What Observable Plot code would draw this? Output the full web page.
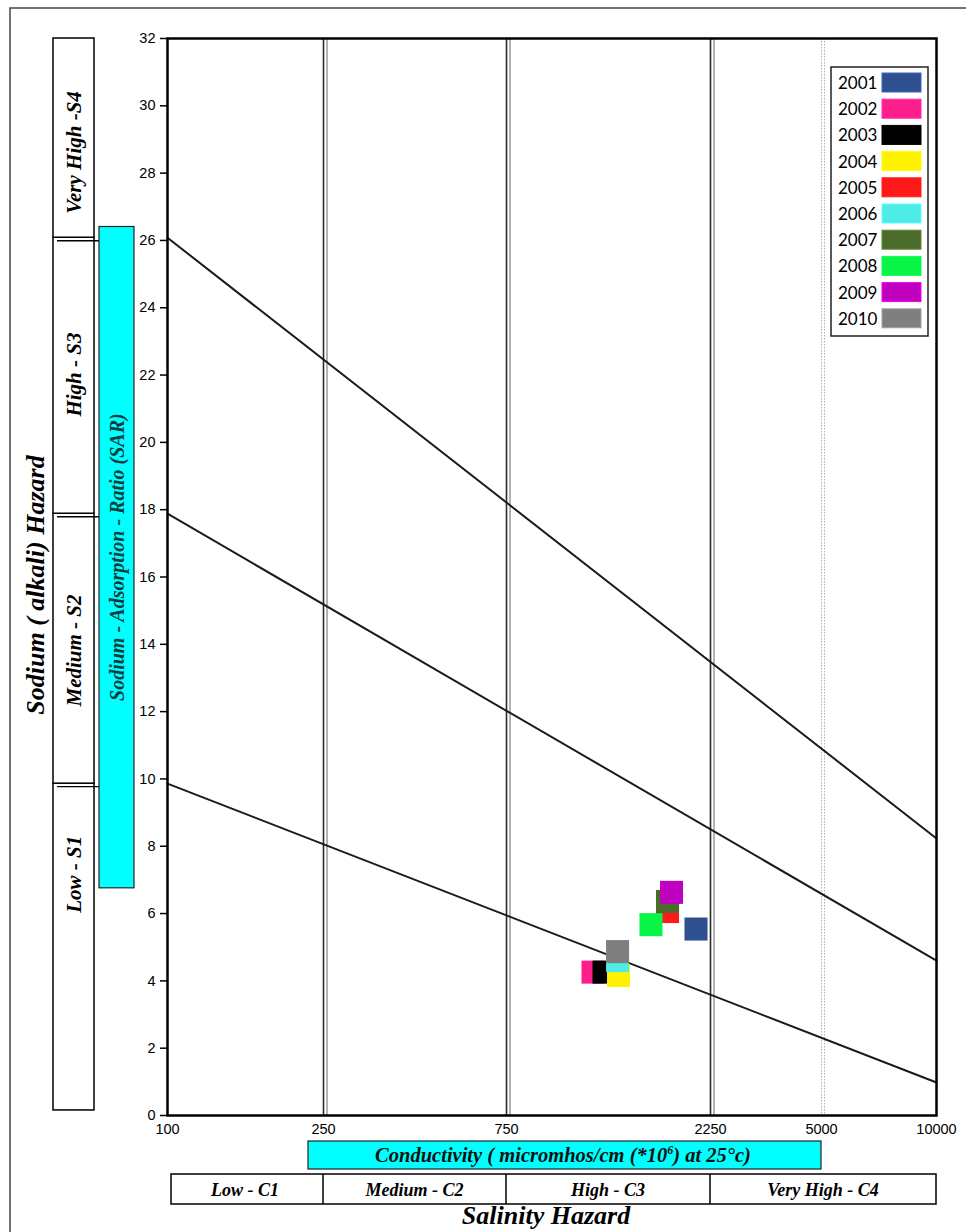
<!DOCTYPE html>
<html><head><meta charset="utf-8">
<script src="https://cdn.jsdelivr.net/npm/d3@7"></script>
<script src="https://cdn.jsdelivr.net/npm/@observablehq/plot@0.6"></script>
<style>
body{margin:0;background:#fff;}
#chart{position:relative;width:966px;height:1232px;}
</style></head><body><div id="chart"></div>
<script>
// ---- data ----
const years = ["2001","2002","2003","2004","2005","2006","2007","2008","2009","2010"];
const colors = ["#2E5090","#FF1F8C","#000000","#FFF200","#FF1A1A","#4DECE6","#4A6B2A","#08F545","#BF00BF","#7F7F7F"];
const ec  = [2081, 1195, 1268, 1371, 1785, 1364, 1785, 1633, 1824, 1364];
const sar = [5.54, 4.26, 4.26, 4.16, 6.06, 4.60, 6.36, 5.67, 6.63, 4.87];
const xTicks = [100, 250, 750, 2250, 5000, 10000];
const yTicks = d3.range(0, 33, 2);
const classBounds = [250, 750, 2250];
const dottedBound = [5000];
const lineEC = [100, 10000];
const lineS34 = [26.08, 8.23];
const lineS23 = [17.88, 4.60];
const lineS12 = [9.86, 0.98];
const sBounds = [0.15, 9.86, 17.88, 26.08, 32];
const sLabels = ["Low - S1", "Medium - S2", "High - S3", "Very High -S4"];
const sLabelAt = [7.15, 13.8, 22.0, 28.6];
const cBounds = [100, 250, 750, 2250, 10000];
const cLabels = ["Low - C1", "Medium - C2", "High - C3", "Very High - C4"];
const sarBand = [6.75, 26.4];

// ---- tables ----
const points = years.map((y, i) => ({year: y, ec: ec[i], sar: sar[i]}));
const diag = [["S3/S4", lineS34], ["S2/S3", lineS23], ["S1/S2", lineS12]]
  .flatMap(([k, v]) => lineEC.map((e, i) => ({k, ec: e, sar: v[i]})));

const W = 966, H = 1232;
const chart = Plot.plot({
  width: W, height: H,
  marginLeft: 167, marginRight: 30, marginTop: 38, marginBottom: 117,
  style: {fontFamily: "'Liberation Sans', Arial, sans-serif", fontSize: "14px", color: "#000", background: "transparent"},
  x: {type: "log", domain: xTicks, range: [167, 323, 506, 710, 821, 936], axis: null},
  y: {domain: [0, 32], axis: null},
  color: {domain: years, range: colors},
  marks: [
    Plot.ruleX(dottedBound, {stroke: "#b0b0b0", strokeDasharray: "1.5,1.5"}),
    Plot.ruleX(dottedBound, {stroke: "#b0b0b0", strokeDasharray: "1.5,1.5", dx: 3}),
    Plot.ruleX(classBounds, {stroke: "#2a2a2a", strokeWidth: 1.6}),
    Plot.ruleX(classBounds, {stroke: "#666", strokeWidth: 1, dx: 3.5}),
    Plot.line(diag, {x: "ec", y: "sar", z: "k", stroke: "#1a1a1a", strokeWidth: 2}),
    Plot.dot(points, {x: "ec", y: "sar", fill: "year", symbol: "square", r: 13}),
    Plot.axisY({ticks: yTicks, tickSize: 7, tickPadding: 5, strokeWidth: 1.5, fontSize: 14.5, label: null}),
    Plot.text(xTicks, {x: d => d, frameAnchor: "bottom", dy: 18, text: d => String(d), fontSize: 14.5, fill: "#000"}),
    Plot.frame({stroke: "#000", strokeWidth: 2.5})
  ]
});
document.getElementById("chart").appendChild(chart);

// ---- decorations ----
const xs = chart.scale("x"), ys = chart.scale("y");
const X = v => xs.apply(v), Y = v => ys.apply(v);
const svg = d3.select(chart);
const serif = "'Liberation Serif', 'Times New Roman', serif";
const g = svg.append("g").attr("font-family", serif).attr("font-weight", "bold").attr("font-style", "italic");

// outer frame
g.append("path").attr("d", `M10,${H}V8H${W}`).attr("fill", "none").attr("stroke", "#444").attr("stroke-width", 1.5);

// S class boxes
for (let i = 0; i < 4; i++) {
  g.append("rect").attr("x", 53).attr("width", 41)
    .attr("y", Y(sBounds[i + 1])).attr("height", Y(sBounds[i]) - Y(sBounds[i + 1]))
    .attr("fill", "#fff").attr("stroke", "#000").attr("stroke-width", 1.5);
}
for (let i = 1; i < 4; i++) {
  g.append("line").attr("x1", 57).attr("x2", 99).attr("y1", Y(sBounds[i]) + 3.5).attr("y2", Y(sBounds[i]) + 3.5)
    .attr("stroke", "#000").attr("stroke-width", 1.3);
}
sLabels.forEach((t, i) => {
  g.append("text").attr("transform", `translate(74,${Y(sLabelAt[i])}) rotate(-90)`)
    .attr("text-anchor", "middle").attr("dominant-baseline", "central")
    .attr("font-size", 21).attr("fill", "#000").text(t);
});

// SAR band
g.append("rect").attr("x", 99).attr("width", 35).attr("y", Y(sarBand[1])).attr("height", Y(sarBand[0]) - Y(sarBand[1]))
  .attr("fill", "#00FFFF").attr("stroke", "#222").attr("stroke-width", 1.2);
g.append("text").attr("transform", `translate(117,${(Y(sarBand[0]) + Y(sarBand[1])) / 2}) rotate(-90)`)
  .attr("text-anchor", "middle").attr("dominant-baseline", "central")
  .attr("font-size", 20).attr("fill", "#0b3d3d").text("Sodium - Adsorption - Ratio (SAR)");

g.append("text").attr("transform", `translate(35,585) rotate(-90)`)
  .attr("text-anchor", "middle").attr("dominant-baseline", "central")
  .attr("font-size", 26).attr("fill", "#000").text("Sodium ( alkali) Hazard");

// conductivity band
g.append("rect").attr("x", 308).attr("y", 1141).attr("width", X(5000) - 308).attr("height", 28)
  .attr("fill", "#00FFFF").attr("stroke", "#222").attr("stroke-width", 1.2);
const ct = g.append("text").attr("x", 563).attr("y", 1162).attr("text-anchor", "middle")
  .attr("font-size", 20.5).attr("fill", "#111");
ct.append("tspan").text("Conductivity ( micromhos/cm (*10");
ct.append("tspan").attr("font-size", 12).attr("dy", -8).text("6");
ct.append("tspan").attr("dy", 8).text(") at 25°c)");

// C class boxes
const cy0 = 1174, cy1 = 1204;
g.append("rect").attr("x", X(100) + 4).attr("y", cy0).attr("width", X(10000) - X(100) - 4).attr("height", cy1 - cy0)
  .attr("fill", "#fff").attr("stroke", "#000").attr("stroke-width", 1.5);
for (let i = 1; i < cBounds.length - 1; i++) {
  g.append("line").attr("x1", X(cBounds[i])).attr("x2", X(cBounds[i])).attr("y1", cy0).attr("y2", cy1)
    .attr("stroke", "#000").attr("stroke-width", 1.5);
}
cLabels.forEach((t, i) => {
  g.append("text").attr("x", (X(cBounds[i]) + X(cBounds[i + 1])) / 2).attr("y", (cy0 + cy1) / 2 + 1)
    .attr("text-anchor", "middle").attr("dominant-baseline", "central")
    .attr("font-size", 18).attr("fill", "#000").text(t);
});
g.append("text").attr("x", 546).attr("y", 1224).attr("text-anchor", "middle")
  .attr("font-size", 26).attr("fill", "#000").text("Salinity Hazard");

// legend
const lg = svg.append("g").attr("font-family", "Lato, 'Open Sans', sans-serif").attr("font-size", 17);
lg.append("rect").attr("x", 831).attr("y", 67).attr("width", 97).attr("height", 269)
  .attr("fill", "#fff").attr("stroke", "#222").attr("stroke-width", 1.5);
years.forEach((yr, i) => {
  const cyy = 82.5 + 26.2 * i;
  lg.append("text").attr("x", 838).attr("y", cyy).attr("text-anchor", "start")
    .attr("dominant-baseline", "central").attr("fill", "#000").text(yr);
  lg.append("rect").attr("x", 882).attr("y", cyy - 9.5).attr("width", 39).attr("height", 19)
    .attr("fill", colors[i]).attr("stroke", d3.color(colors[i]).brighter(0.7)).attr("stroke-width", 1);
});
</script></body></html>
